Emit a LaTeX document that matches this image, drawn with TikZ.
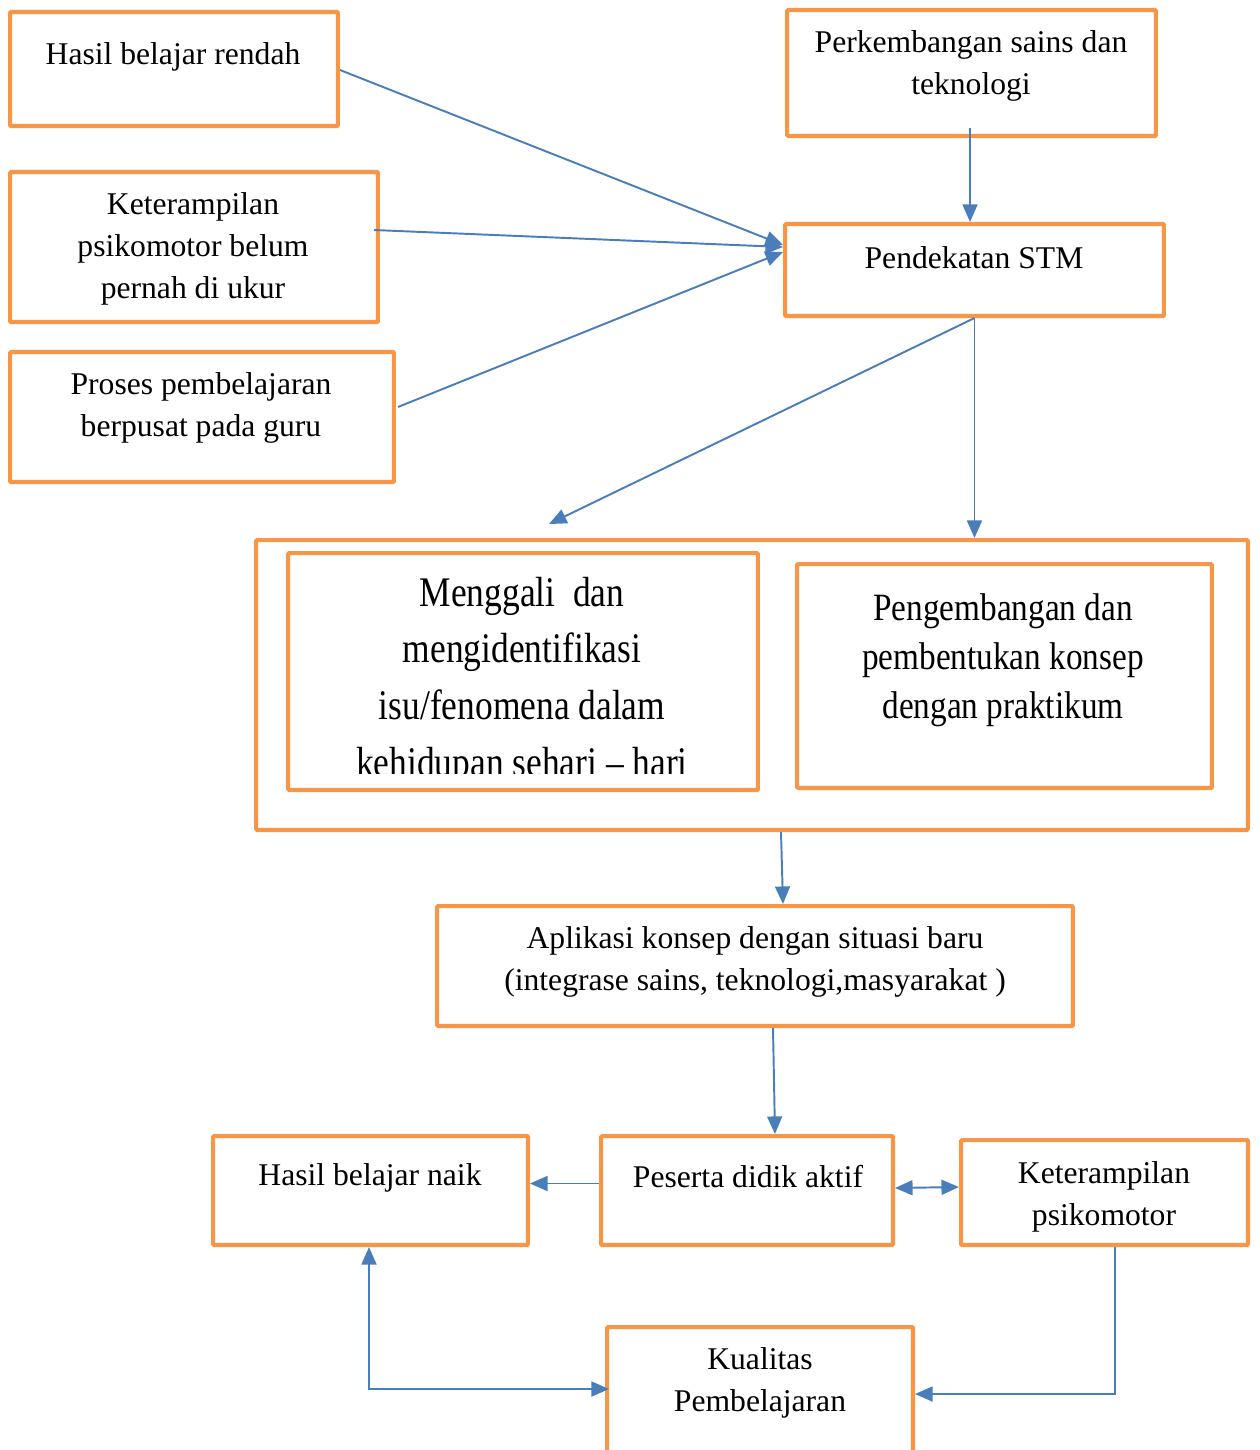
\documentclass[tikz,border=0pt]{standalone}
\usepackage{fontspec}
\setmainfont{Liberation Serif}
\newfontfamily\narrowserif[FakeStretch=0.84]{Liberation Serif}
\newfontfamily\narrowserifb[FakeStretch=0.86]{Liberation Serif}
\usetikzlibrary{arrows.meta}
\definecolor{boxorange}{HTML}{F79646}
\definecolor{arrowblue}{HTML}{4A7EBB}
\begin{document}
\begin{tikzpicture}[x=0.02cm, y=-0.02cm,
  >={Triangle[length=10pt,width=8.5pt]},
  box/.style={draw=boxorange, line width=2.3pt, rounded corners=0.6pt, inner sep=0pt},
  txt/.style={align=center, inner sep=0pt, font=\fontsize{18}{24}\selectfont},
  arr/.style={draw=arrowblue, line width=1.1pt}]
\clip (0,0) rectangle (1259,1450);
% boxes of the problems
\node[box, minimum width=6.56cm, minimum height=2.28cm] (hbr) at (174,69) {};
\node[box, minimum width=7.36cm, minimum height=3.0cm] (ket) at (194,247) {};
\node[box, minimum width=7.68cm, minimum height=2.6cm] (pro) at (202,417) {};
\node[txt] (hbr-t) at (173,57) {Hasil belajar rendah};
\node[txt] (ket-t) at (193,249) {Keterampilan\\psikomotor belum\\pernah di ukur};
\node[txt] (pro-t) at (201,408) {Proses pembelajaran\\berpusat pada guru};
% boxes of the approach
\node[box, minimum width=7.38cm, minimum height=2.52cm] (psd) at (971.5,73) {};
\node[box, minimum width=7.58cm, minimum height=1.84cm] (stm) at (974.5,270) {};
\node[txt] (psd-t) at (971,66) {Perkembangan sains dan\\teknologi};
\node[txt] (stm-t) at (974,258) {Pendekatan STM};
% big box with the two steps
\node[box, minimum width=19.84cm, minimum height=5.8cm] (step) at (752,685) {};
\node[box, minimum width=9.4cm, minimum height=4.74cm] (meng) at (523,671.5) {};
\node[box, minimum width=8.3cm, minimum height=4.48cm] (peng) at (1004.5,676) {};
\begin{scope}
\clip (292,557) rectangle (754,773);
\node[txt, font=\narrowserif\fontsize{24}{32.3}\selectfont] (meng-t) at (522,681)
  {Menggali\ \ dan\\mengidentifikasi\\isu/fenomena dalam\\kehidupan sehari – hari};
\end{scope}
\node[txt, font=\narrowserifb\fontsize{22}{27.8}\selectfont] (peng-t) at (1003,660)
  {Pengembangan dan\\pembentukan konsep\\dengan praktikum};
% application and results
\node[box, minimum width=12.72cm, minimum height=2.4cm] (apl) at (755,966) {};
\node[txt] (apl-t) at (755,962) {Aplikasi konsep dengan situasi baru\\(integrase sains, teknologi,masyarakat )};
\node[box, minimum width=6.3cm, minimum height=2.18cm] (hbn) at (370.5,1190.5) {};
\node[box, minimum width=5.84cm, minimum height=2.18cm] (pda) at (747,1190.5) {};
\node[box, minimum width=5.74cm, minimum height=2.1cm] (kps) at (1104.5,1192.5) {};
\node[box, minimum width=6.12cm, minimum height=3.46cm] (kua) at (760,1413.5) {};
\node[txt] (hbn-t) at (370,1178) {Hasil belajar naik};
\node[txt] (pda-t) at (748,1177) {Peserta didik aktif};
\node[txt] (kps-t) at (1104,1197) {Keterampilan\\psikomotor};
\node[txt] (kua-t) at (760,1383) {Kualitas\\Pembelajaran};
% arrows into the approach
\draw[arr, ->] ([yshift=-0.02cm]hbr.east) -- ([yshift=0.5cm]stm.west);
\draw[arr, ->] ([xshift=-0.12cm, yshift=0.34cm]ket.east) -- ([yshift=0.46cm]stm.west);
\draw[arr, ->] ([xshift=0.04cm, yshift=0.2cm]pro.east) -- ([yshift=0.36cm]stm.west);
\draw[arr, ->] ([xshift=-0.03cm, yshift=0.2cm]psd.south) -- ([xshift=-0.09cm]stm.north);
% arrows out of the approach
\draw[arr, ->] (stm.south) -- ([shift={(0.52cm,0.54cm)}]meng.north);
\draw[arr, ->] (stm.south) -- (stm.south |- step.north);
\draw[arr, ->] ([xshift=0.58cm]step.south) -- ([xshift=0.56cm]apl.north);
\draw[arr, ->] ([xshift=0.36cm]apl.south) -- ([xshift=0.56cm]pda.north);
% arrows between the results
\draw[arr, ->] ([yshift=0.14cm]pda.west) -- ([yshift=0.14cm]hbn.east);
\draw[arr, <->] ([yshift=0.05cm]pda.east) -- ([yshift=0.11cm]kps.west);
\draw[arr, <->] ([xshift=-0.03cm]hbn.south) |- ([xshift=0.08cm, yshift=0.49cm]kua.west);
\draw[arr, ->] ([xshift=0.21cm]kps.south) |- ([yshift=0.39cm]kua.east);
\end{tikzpicture}
\end{document}
